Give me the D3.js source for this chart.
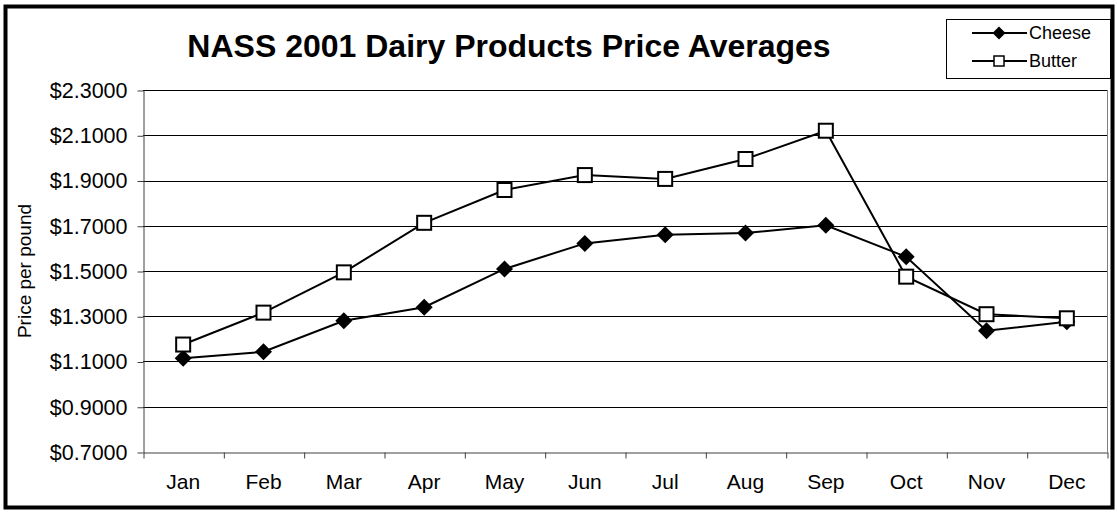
<!DOCTYPE html>
<html>
<head>
<meta charset="utf-8">
<script src="https://cdn.jsdelivr.net/npm/d3@7"></script>
<style>
  html, body { margin: 0; padding: 0; background: #fff; }
  svg { display: block; font-family: Arial, "Liberation Sans", sans-serif; }
</style>
</head>
<body>
<svg id="chart" width="1117" height="512"></svg>
<script>
const months = ['Jan', 'Feb', 'Mar', 'Apr', 'May', 'Jun', 'Jul', 'Aug', 'Sep', 'Oct', 'Nov', 'Dec']
const cheese = [1.114, 1.143, 1.280, 1.340, 1.509, 1.622, 1.660, 1.668, 1.702, 1.563, 1.236, 1.276]
const butter = [1.175, 1.316, 1.494, 1.713, 1.858, 1.924, 1.907, 1.995, 2.120, 1.475, 1.309, 1.291]
const yTicks = [0.7, 0.9, 1.1, 1.3, 1.5, 1.7, 1.9, 2.1, 2.3]
const seriesNames = ['Cheese', 'Butter']

const plot = { left: 143, right: 1107, top: 90, bottom: 452 }

const svg = d3.select('#chart')

// outer chart border
svg.append('rect')
  .attr('x', 5.5)
  .attr('y', 6.5)
  .attr('width', 1107)
  .attr('height', 501)
  .attr('fill', '#fff')
  .attr('stroke', '#000')
  .attr('stroke-width', 4)

const x = d3.scaleBand()
  .domain(months)
  .range([plot.left, plot.right])

const xEdge = d3.scaleLinear()
  .domain([0, months.length])
  .range([plot.left, plot.right])

const y = d3.scaleLinear()
  .domain([0.7, 2.3])
  .range([plot.bottom, plot.top])

const cx = (d, i) => x(months[i]) + x.bandwidth() / 2

// gridlines
svg.append('g')
  .selectAll('line')
  .data(yTicks.slice(1))
  .enter()
  .append('line')
  .attr('x1', plot.left)
  .attr('x2', plot.right)
  .attr('y1', d => Math.round(y(d)) + 0.5)
  .attr('y2', d => Math.round(y(d)) + 0.5)
  .attr('stroke', '#000')
  .attr('stroke-width', 1)

// plot area border (right side)
svg.append('line')
  .attr('x1', plot.right + 0.5)
  .attr('x2', plot.right + 0.5)
  .attr('y1', plot.top)
  .attr('y2', plot.bottom)
  .attr('stroke', '#808080')

// y axis
const yAxis = svg.append('g')
  .attr('transform', `translate(${plot.left + 0.5},0.5)`)
  .call(d3.axisLeft(y)
    .tickValues(yTicks)
    .tickFormat(d => '$' + d.toFixed(4))
    .tickSize(6)
    .tickSizeOuter(0)
    .tickPadding(10))

yAxis.select('.domain').attr('stroke', '#404040')
yAxis.selectAll('.tick line').attr('stroke', '#404040')
yAxis.selectAll('.tick text')
  .attr('fill', '#000')
  .style('font-size', '21.5px')
  .style('font-family', 'Arial, "Liberation Sans", sans-serif')

// x axis: tick marks at category edges
const xTicks = svg.append('g')
  .attr('transform', `translate(0.5,${plot.bottom + 0.5})`)
  .call(d3.axisBottom(xEdge)
    .tickValues(d3.range(months.length + 1))
    .tickFormat('')
    .tickSize(6)
    .tickSizeOuter(0))

xTicks.select('.domain').attr('stroke', '#404040')
xTicks.selectAll('.tick line').attr('stroke', '#404040')

// x axis labels
const xLabels = svg.append('g')
  .attr('transform', `translate(0,${plot.bottom})`)
  .call(d3.axisBottom(x).tickSize(0).tickPadding(22))

xLabels.select('.domain').remove()
xLabels.selectAll('.tick text')
  .attr('fill', '#000')
  .style('font-size', '21px')
  .style('font-family', 'Arial, "Liberation Sans", sans-serif')

// y axis title
svg.append('text')
  .attr('transform', `translate(31,${(plot.top + plot.bottom) / 2}) rotate(-90)`)
  .attr('text-anchor', 'middle')
  .style('font-size', '19px')
  .text('Price per pound')

// chart title
svg.append('text')
  .attr('x', 509)
  .attr('y', 57)
  .attr('text-anchor', 'middle')
  .style('font-size', '32px')
  .style('font-weight', 'bold')
  .text('NASS 2001 Dairy Products Price Averages')

const line = d3.line()
  .x(cx)
  .y(d => y(d))

const diamond = s => `M0,${-s}L${s},0L0,${s}L${-s},0Z`

// butter line
svg.append('path')
  .datum(butter)
  .attr('d', line)
  .attr('fill', 'none')
  .attr('stroke', '#000')
  .attr('stroke-width', 2)

// cheese line
svg.append('path')
  .datum(cheese)
  .attr('d', line)
  .attr('fill', 'none')
  .attr('stroke', '#000')
  .attr('stroke-width', 2)

svg.append('g')
  .selectAll('path')
  .data(cheese)
  .enter()
  .append('path')
  .attr('transform', (d, i) => `translate(${cx(d, i)},${y(d)})`)
  .attr('d', diamond(8.5))
  .attr('fill', '#000')

svg.append('g')
  .selectAll('rect')
  .data(butter)
  .enter()
  .append('rect')
  .attr('x', (d, i) => cx(d, i) - 7)
  .attr('y', d => y(d) - 7)
  .attr('width', 14)
  .attr('height', 14)
  .attr('fill', '#fff')
  .attr('stroke', '#000')
  .attr('stroke-width', 2)

// legend
const legend = svg.append('g')

legend.append('rect')
  .attr('x', 946.5)
  .attr('y', 19.5)
  .attr('width', 164)
  .attr('height', 59)
  .attr('fill', '#fff')
  .attr('stroke', '#000')

const items = legend.selectAll('.item')
  .data(seriesNames)
  .enter()
  .append('g')
  .classed('item', true)
  .attr('transform', (d, i) => `translate(0,${33 + i * 28})`)

items.append('line')
  .attr('x1', 972)
  .attr('x2', 1027)
  .attr('stroke', '#000')
  .attr('stroke-width', 2)

items.filter(d => d === 'Cheese')
  .append('path')
  .attr('transform', 'translate(999,0)')
  .attr('d', diamond(6.5))
  .attr('fill', '#000')

items.filter(d => d === 'Butter')
  .append('rect')
  .attr('x', 994)
  .attr('y', -5)
  .attr('width', 10)
  .attr('height', 10)
  .attr('fill', '#fff')
  .attr('stroke', '#000')
  .attr('stroke-width', 1.5)

items.append('text')
  .attr('x', 1029)
  .attr('dy', '0.35em')
  .style('font-size', '18px')
  .text(d => d)
</script>
</body>
</html>
